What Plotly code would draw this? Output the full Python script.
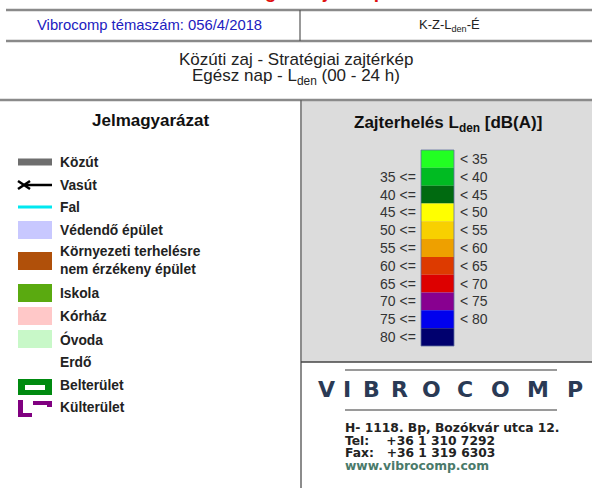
import plotly.graph_objects as go

W, H = 592, 488

# ---- data ----
scale_colors = ["#22ff22", "#00bb22", "#006a10", "#ffff00", "#f8d000", "#eea000",
                "#dd3a00", "#dd0000", "#880090", "#0000ee", "#00006e"]
scale_lower = ["", "35 <=", "40 <=", "45 <=", "50 <=", "55 <=", "60 <=", "65 <=", "70 <=", "75 <=", "80 <="]
scale_upper = ["< 35", "< 40", "< 45", "< 50", "< 55", "< 60", "< 65", "< 70", "< 75", "< 80", ""]

legend_labels = ["Közút", "Vasút", "Fal", "Védendő épület",
                 "Környezeti terhelésre<br>nem érzékeny épület",
                 "Iskola", "Kórház", "Óvoda", "Erdő", "Belterület", "Külterület"]
legend_kinds = ["road", "rail", "wall", "fill", "fill", "fill", "fill", "fill", "fill", "frame", "dash"]
legend_colors = ["#6e6e6e", "#000000", "#00e8f0", "#c8c8ff", "#b0500a",
                 "#5aaa10", "#ffc8c8", "#c8f8c8", "#ffffff", "#008a10", "#800080"]
legend_rows = [162, 185, 207, 230, 260, 293, 316, 339, 362, 385, 407]

address_lines = ["H- 1118. Bp, Bozókvár utca 12.", "Tel:    +36 1 310 7292",
                 "Fax:   +36 1 319 6303"]
web = "www.vibrocomp.com"
logo = "VIBROCOMP"
logo_x = [326, 347, 371, 399, 431, 465, 500, 538, 575]

fig = go.Figure()
shapes = []
ann = []
FONT = "Liberation Sans, Arial, sans-serif"
WIDE = "DejaVu Sans, sans-serif"

def line(x0, y0, x1, y1, color, w):
    shapes.append(dict(type="line", x0=x0, y0=y0, x1=x1, y1=y1, xref="x", yref="y",
                       line=dict(color=color, width=w)))

def rect(x0, y0, x1, y1, fill, lc=None, lw=0):
    shapes.append(dict(type="rect", x0=x0, y0=y0, x1=x1, y1=y1, xref="x", yref="y",
                       fillcolor=fill, line=dict(color=lc or fill, width=lw), layer="above"))

def text(x, y, s, size=12, color="#222", bold=False, xanchor="center", family=FONT):
    if bold:
        s = "<b>" + s + "</b>"
    ann.append(dict(x=x, y=y, xref="x", yref="y", text=s, showarrow=False,
                    xanchor=xanchor, yanchor="middle", align="left",
                    font=dict(size=size, color=color, family=family)))

# panels
rect(302, 101, W, 362, "#dcdcdc")
# header lines
line(6, 10, W, 10, "#8a8a8a", 2.5)
line(6, 41, W, 41, "#8a8a8a", 2.5)
line(300, 10, 300, 41, "#555555", 1.2)
line(0, 100, W, 100, "#8a8a8a", 2.5)
line(301, 100, 301, H, "#666666", 1.5)
line(301, 362, W, 362, "#444444", 1.5)

# cut-off red title (only its lower edge shows at the top of the sheet)
ann.append(dict(x=298, y=1, xref="x", yref="paper", text="<b>Stratégiai zajtérkép</b>",
                showarrow=False, yanchor="middle", yshift=8.5,
                font=dict(size=19, color="#e01010", family=FONT)))

text(149, 25, "Vibrocomp témaszám: 056/4/2018", 14.8, "#2020c0")
text(449, 25, "K-Z-L<sub>den</sub>-É", 13, "#222")
text(296, 59, "Közúti zaj - Stratégiai zajtérkép", 17, "#222")
text(296, 77, "Egész nap - L<sub>den</sub> (00 - 24 h)", 17, "#222")

text(151, 120, "Jelmagyarázat", 17, "#111", bold=True)
text(448, 124, "Zajterhelés L<sub>den</sub> [dB(A)]", 17, "#111", bold=True)

# colour scale
top, bot = 150, 346
seg = (bot - top) / len(scale_colors)
for i, c in enumerate(scale_colors):
    y0 = top + i * seg
    rect(421, y0, 454, y0 + seg, c)
    yc = y0 + seg / 2
    if scale_lower[i]:
        text(418, yc, scale_lower[i], 14, "#333", xanchor="right")
    if scale_upper[i]:
        text(458, yc, scale_upper[i], 14, "#333", xanchor="left")
shapes.append(dict(type="rect", x0=421, y0=top, x1=454, y1=bot, xref="x", yref="y",
                   line=dict(color="#6070a0", width=0.8), layer="above"))

# left legend
for lab, kind, col, yc in zip(legend_labels, legend_kinds, legend_colors, legend_rows):
    if kind == "road":
        rect(18, yc - 3.5, 52, yc + 3.5, col)
    elif kind == "rail":
        line(26, yc, 52, yc, col, 2.5)
        line(18, yc - 4, 30, yc + 4, col, 2.5)
        line(18, yc + 4, 30, yc - 4, col, 2.5)
    elif kind == "wall":
        line(18, yc, 52, yc, col, 3)
    elif kind == "fill":
        if "<br>" in lab:
            rect(18, yc - 8, 52, yc + 10, col)
        else:
            rect(18, yc - 9, 52, yc + 9, col)
    elif kind == "frame":
        rect(18, yc - 6, 52, yc + 10, col)
        rect(25, yc, 45, yc + 5, "#ffffff")
    elif kind == "dash":
        rect(18, yc - 7, 23, yc + 10, col)
        rect(18, yc + 6, 32, yc + 10, col)
        rect(33, yc - 6, 52, yc - 2, col)
        rect(47, yc - 6, 52, yc + 0, col)
    text(58, yc, lab, 13.8, "#222", bold=True, xanchor="left")

# logo
line(345, 370, 557, 370, "#9a9a9a", 2)
line(345, 410, 557, 410, "#9a9a9a", 2)
for ch, x in zip(logo, logo_x):
    text(x, 389, ch, 22, "#2a3a55", bold=True, family=WIDE)
for i, s in enumerate(address_lines):
    text(343, 428 + i * 12.6, s, 12.3, "#222", bold=True, xanchor="left", family=WIDE)
text(343, 466, web, 12.3, "#4a7a6a", bold=True, xanchor="left", family=WIDE)

fig.update_layout(
    width=W, height=H, margin=dict(l=0, r=0, t=0, b=0),
    paper_bgcolor="white", plot_bgcolor="white",
    xaxis=dict(range=[0, W], visible=False, fixedrange=True),
    yaxis=dict(range=[H, 0], visible=False, fixedrange=True),
    shapes=shapes, annotations=ann, showlegend=False,
)
fig.write_html("out.html", config={"displayModeBar": False},
               post_script="document.body.style.margin='0';")
